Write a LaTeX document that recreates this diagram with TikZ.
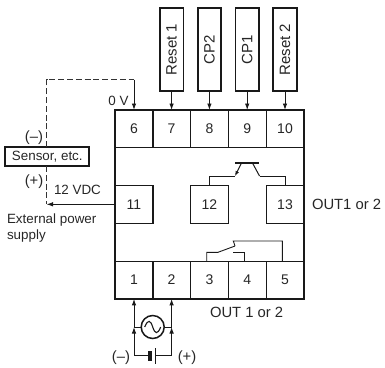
\documentclass[tikz,border=0pt]{standalone}
\usepackage{fontspec}
\setmainfont{Liberation Sans}
\usetikzlibrary{arrows.meta,positioning}
\begin{document}
\begin{tikzpicture}[x=1pt,y=-1pt,
  every node/.style={inner sep=0pt,outer sep=0pt,text=black!85,font=\fontsize{13.4}{16}\selectfont},
  cell/.style={draw=black!90,line width=1.2pt,minimum width=37.8pt,minimum height=37.8pt,anchor=center,font=\fontsize{14}{16}\selectfont},
  term/.style={draw=black!90,line width=1.7pt,minimum width=23.5pt,minimum height=83pt,anchor=center,font=\fontsize{15}{17}\selectfont},
  wire/.style={draw=black!90,line width=0.9pt},
  arrowed/.style={wire,-{Latex[length=6.5pt,width=4.5pt]}},
  dashline/.style={draw=black!80,line width=1.4pt,dash pattern=on 6pt off 2.8pt},
  big/.style={font=\fontsize{14.8}{17}\selectfont}
]
\useasboundingbox (0,0) rectangle (385,367);
% top row
\node[cell] (c6) at (134,128.9) {6};
\node[cell] (c7) at (171.6,128.9) {7};
\node[cell] (c8) at (209.4,128.9) {8};
\node[cell] (c9) at (247.2,128.9) {9};
\node[cell] (c10) at (285,128.9) {10};
% middle row
\node[cell] (c11) at (134,204.3) {11};
\node[cell] (c12) at (209.4,204.3) {12};
\node[cell] (c13) at (285,204.3) {13};
% bottom row
\node[cell] (c1) at (134,280) {1};
\node[cell] (c2) at (171.6,280) {2};
\node[cell] (c3) at (209.4,280) {3};
\node[cell] (c4) at (247.2,280) {4};
\node[cell] (c5) at (285,280) {5};
% outer frame
\node[draw=black!90,line width=2.4pt,minimum width=189pt,minimum height=189pt] (frame) at (209.5,204.4) {};
% terminals
\node[term] (r1) at (171.6,49.5) {\rotatebox{90}{Reset 1}};
\node[term] (cp2) at (209.4,49.5) {\rotatebox{90}{CP2}};
\node[term] (cp1) at (247.2,49.5) {\rotatebox{90}{CP1}};
\node[term] (r2) at (285,49.5) {\rotatebox{90}{Reset 2}};
\draw[arrowed] (r1.south) -- (c7.north);
\draw[arrowed] (cp2.south) -- (c8.north);
\draw[arrowed] (cp1.south) -- (c9.north);
\draw[arrowed] (r2.south) -- (c10.north);
% sensor
\node[draw=black!90,line width=2.2pt,minimum width=84pt,minimum height=19pt] (sensor) at (47.3,156.5) {Sensor, etc.};
\coordinate (dtop) at (46.5,79.5);
\coordinate (dright) at (134,79.5);
\coordinate (dbot) at (46.5,204.3);
\draw[dashline] (sensor.north -| dtop) -- (dtop) -- (dright);
\draw[arrowed] (dright) -- (c6.north);
\draw[dashline] (sensor.south -| dbot) -- (dbot);
\draw[arrowed] (c11.west) -- (dbot);
\node[anchor=base] at (118.5,105) {0 V};
\node[anchor=base,big] (minus) at (34,141) {(–)};
\node[anchor=base,big] (plus) at (34,185) {(+)};
\node[anchor=base west] at (54,194) {12 VDC};
\node[anchor=base west] at (7,223) {External power};
\node[anchor=base west] at (7,239) {supply};
\node[anchor=base west,big] at (312,209) {OUT1 or 2};
\node[anchor=base west,big] at (210,317) {OUT 1 or 2};
% transistor
\coordinate (tl) at (235,163);
\coordinate (tr) at (259,163);
\coordinate (e1) at (241.5,163);
\coordinate (e2) at (235,176);
\coordinate (f1) at (252.5,163);
\coordinate (f2) at (259.5,176);
\draw[draw=black!90,line width=1.8pt] (tl) -- (tr);
\draw[wire] (c12.north) |- (e2);
\draw[wire,line width=1pt,-{Latex[length=5pt,width=4pt]}] (e1) -- (e2);
\draw[wire,line width=1pt] (f1) -- (f2);
\draw[wire] (f2) -| (c13.north);
% relay contact
\coordinate (ra) at (206.7,261);
\coordinate (rb) at (206.7,252.3);
\coordinate (rc) at (218,252.3);
\coordinate (rd) at (235,246);
\coordinate (re) at (233.3,241);
\coordinate (rf) at (282.3,241);
\coordinate (rg) at (282.3,261);
\coordinate (rh) at (233.3,252.3);
\coordinate (ri) at (244.7,252.3);
\coordinate (rj) at (244.7,261);
\draw[wire] (ra) -- (rb) -- (rc) -- (rd);
\draw[wire] (rd) -- (re) -- (rf) -- (rg);
\draw[wire] (rh) -- (ri) -- (rj);
% AC source
\node[draw=black!90,line width=1.5pt,circle,minimum size=23pt] (ac) at (152.7,327) {};
\draw[wire,line width=1.1pt] (144.7,327) .. controls (148,319) and (150.5,320) .. (152.7,327) .. controls (155,334) and (157.5,335) .. (160.7,327);
\coordinate (la) at (134,327);
\coordinate (ra2) at (171.6,327);
\coordinate (lb) at (134,355.5);
\coordinate (rb2) at (171.6,355.5);
\draw[wire] (ac.west) -- (la);
\draw[wire] (ac.east) -- (ra2);
\draw[arrowed] (la) -- (c1.south |- frame.south);
\draw[arrowed] (ra2) -- (c2.south |- frame.south);
\draw[arrowed] (lb) -- (la);
\draw[arrowed] (rb2) -- (ra2);
% battery
\node[fill=black!90,minimum width=4pt,minimum height=10pt] (bneg) at (149.5,355.5) {};
\node[fill=black!90,minimum width=1.6pt,minimum height=16pt] (bpos) at (155.3,355.5) {};
\draw[wire] (lb) -- (bneg.west);
\draw[wire] (bpos.east) -- (rb2);
\node[anchor=base,big] at (121,361.5) {(–)};
\node[anchor=base,big] at (187,361.5) {(+)};
\end{tikzpicture}
\end{document}
